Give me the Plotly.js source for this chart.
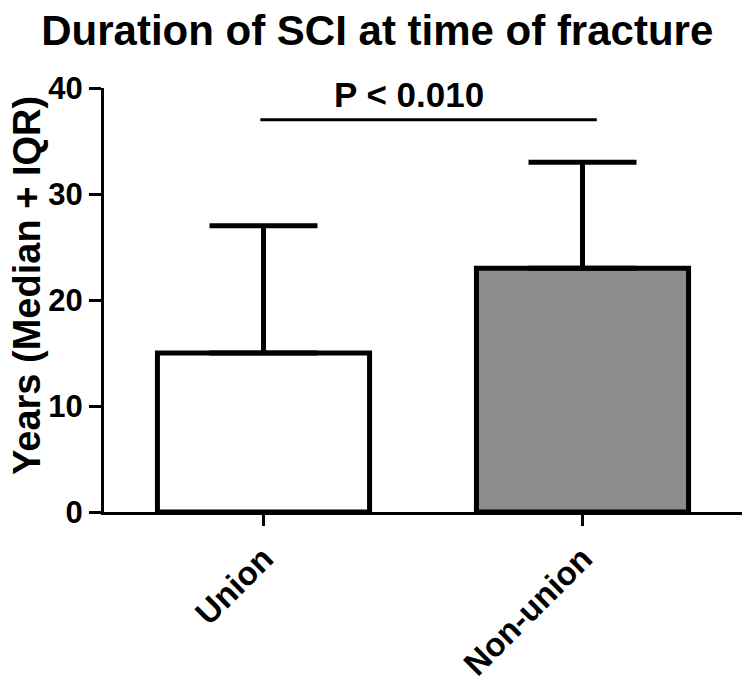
<!DOCTYPE html>
<html>
<head>
<meta charset="utf-8">
<script src="https://cdn.plot.ly/plotly-3.0.1.min.js"></script>
<style>
  html, body { margin: 0; padding: 0; background: #fff; }
  #chart { width: 750px; height: 686px; }
</style>
</head>
<body>
<div id="chart"></div>
<script>
// groups and values (years)
const groups = ['Union', 'Non-union'];
const medians = [15, 23];
const upperIQR = [27, 33];
const barColors = ['#ffffff', '#8c8c8c'];
const pText = 'P < 0.010';
const pLevel = 37;
const yTitle = 'Years (Median + IQR)';

const font = 'Arial, "Liberation Sans", sans-serif';

const plusErr = upperIQR.map((u, i) => u - medians[i]);

const plotData = [
  {
    x: groups,
    y: medians,
    type: 'bar',
    width: 0.665,
    marker: { color: barColors, line: { color: '#000', width: 5 } },
    error_y: {
      type: 'data',
      symmetric: false,
      array: plusErr,
      arrayminus: [0, 0],
      color: '#000',
      thickness: 5,
      width: 54
    },
    hoverinfo: 'none'
  }
];

const layout = {
  width: 750,
  height: 686,
  margin: { l: 104, r: 8, t: 88, b: 174 },
  paper_bgcolor: '#fff',
  plot_bgcolor: '#fff',
  showlegend: false,
  font: { family: font, color: '#000' },
  title: {
    text: '<b>Duration of SCI at time of fracture</b>',
    font: { size: 42, family: font, color: '#000' },
    x: 0.503,
    xanchor: 'center',
    y: 0.956,
    yanchor: 'middle'
  },
  xaxis: {
    type: 'category',
    range: [-0.5, 1.5],
    automargin: false,
    showline: true,
    linewidth: 3,
    linecolor: '#000',
    ticks: 'outside',
    ticklen: 11,
    tickwidth: 3,
    tickcolor: '#000',
    tickangle: -45,
    tickfont: { size: 33, family: font, color: '#000', weight: 'bold' },
    showgrid: false,
    zeroline: false
  },
  yaxis: {
    range: [0, 40],
    dtick: 10,
    automargin: false,
    showline: true,
    linewidth: 3,
    linecolor: '#000',
    ticks: 'outside',
    ticklen: 12,
    tickwidth: 3,
    tickcolor: '#000',
    tickfont: { size: 31, family: font, color: '#000', weight: 'bold' },
    showgrid: false,
    zeroline: false
  },
  shapes: [
    {
      type: 'line',
      xref: 'x', yref: 'y',
      x0: -0.01, x1: 1.045,
      y0: pLevel, y1: pLevel,
      line: { color: '#000', width: 3 }
    }
  ],
  annotations: [
    {
      xref: 'x', yref: 'y',
      x: 0.456, y: pLevel + 0.4,
      yanchor: 'bottom',
      text: '<b>' + pText.replace('<', '&lt;') + '</b>',
      showarrow: false,
      font: { size: 35, family: font, color: '#000' }
    },
    {
      // y axis title, placed by hand so it sits a little above centre like the original
      xref: 'paper', yref: 'paper',
      x: -0.121, y: 0.535,
      xanchor: 'center', yanchor: 'middle',
      textangle: -90,
      text: '<b>' + yTitle + '</b>',
      showarrow: false,
      font: { size: 38, family: font, color: '#000' }
    }
  ]
};

Plotly.newPlot('chart', plotData, layout, { displayModeBar: false, staticPlot: true });
</script>
</body>
</html>
